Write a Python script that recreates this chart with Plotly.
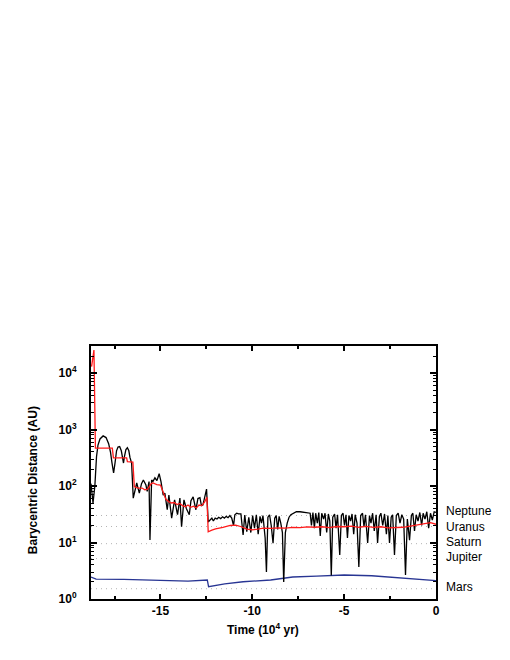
import numpy as np
import plotly.graph_objects as go

# ---------------- data ----------------
black_t = [-18.78, -18.67, -18.57, -18.48, -18.40, -18.29, -18.12, -17.96, -17.82, -17.72, -17.64, -17.55,
           -17.47, -17.39, -17.31, -17.22, -17.13, -17.07, -17.01,
           -16.96, -16.88, -16.80, -16.72, -16.66, -16.57, -16.48,
           -16.29, -16.22, -16.15, -16.03, -15.93, -15.79, -15.72, -15.62, -15.57, -15.48, -15.41, -15.30,
           -15.19, -15.07, -14.97, -14.85, -14.76, -14.63, -14.54, -14.39, -14.23, -14.07, -13.94, -13.85,
           -13.72, -13.59, -13.43, -13.34, -13.22, -13.07, -12.96, -12.85, -12.77, -12.69, -12.58, -12.49, -12.40,
           -12.31, -12.20, -12.12, -12.02, -11.92, -11.83, -11.72, -11.62, -11.52, -11.42, -11.32, -11.22,
           -11.12, -11.02, -10.95, -10.85, -10.75, -10.62, -10.50, -10.41, -10.30, -10.19,
           -10.08, -9.98, -9.88, -9.78, -9.68, -9.58, -9.50, -9.42, -9.30, -9.23, -9.15, -9.06, -8.97, -8.87,
           -8.78, -8.70, -8.62, -8.54, -8.45, -8.36, -8.29, -8.20, -8.10, -8.00, -7.90, -7.78, -7.60, -7.40,
           -7.20, -7.00, -6.85, -6.78, -6.70, -6.62, -6.55, -6.46, -6.38, -6.30, -6.22, -6.12, -6.04, -5.95,
           -5.86, -5.78, -5.70, -5.62, -5.52, -5.44, -5.36, -5.24, -5.15, -5.06, -4.98, -4.90, -4.82, -4.74,
           -4.65, -4.57, -4.48, -4.40, -4.30, -4.20, -4.10, -4.00, -3.92, -3.84, -3.72, -3.62, -3.54, -3.45,
           -3.36, -3.26, -3.18, -3.08, -3.00, -2.90, -2.80, -2.70, -2.62, -2.53, -2.44, -2.36, -2.26, -2.16,
           -2.06, -1.96, -1.86, -1.76, -1.66, -1.56, -1.44, -1.34, -1.26, -1.17, -1.08, -0.98, -0.88, -0.78,
           -0.70, -0.60, -0.50, -0.40, -0.30, -0.20, -0.10, 0.0]
black_au = [110, 50, 100, 330, 530, 680, 770, 720, 560, 400, 260, 170,
            260, 420, 490, 500, 420, 320, 255,
            330, 440, 475, 420, 320, 255, 61,
            113, 92, 75, 110, 128, 104, 80, 120, 11.1, 128, 120, 140,
            125, 165, 120, 69, 75, 38, 69, 27, 57, 31, 61, 19,
            57, 40, 31, 55, 64, 38, 60, 62, 45, 46, 70, 88, 23,
            25, 27, 24, 27, 26, 28, 26.5, 28.5, 27, 29, 27.5, 30,
            27, 20, 31, 33, 32, 32, 13.6, 30.7, 15.5, 28,
            15, 30, 18, 31, 14, 29, 22, 30, 12, 3.0, 28, 31, 20, 9.7,
            27, 30, 17, 29, 22, 15, 2.0, 15, 22, 28, 31, 33, 35, 35,
            34, 34, 33, 20, 34, 18, 33, 22, 34, 13, 33, 26, 33, 15,
            32, 24, 2.6, 28, 32, 18, 31, 6, 30, 33, 20, 31, 12, 30,
            24, 32, 14, 31, 22, 3.7, 30, 33, 19, 31, 9.8, 30, 22, 33,
            16, 31, 9.8, 29, 33, 20, 32, 14, 30, 9.8, 28, 31, 6, 30,
            33, 22, 31, 26, 2.66, 26, 11, 30, 33, 16, 31, 24, 34, 20,
            33, 26, 35, 18, 33, 25, 35, 34]

red_t = [-18.75, -18.62, -18.54, -17.62, -17.56, -16.84, -16.80, -16.50, -16.42, -16.2, -16.0, -15.85,
         -15.7, -15.5, -15.4, -15.2, -15.0, -14.85, -14.7, -14.55, -14.4, -14.25, -14.1, -13.95, -13.8,
         -13.65, -13.5, -13.35, -13.2, -13.05, -12.9, -12.75, -12.6, -12.47, -12.40, -12.2, -12.0, -11.6,
         -11.2, -10.9, -10.6, -10.3, -10.0, -9.7, -9.4, -9.0, -8.6, -8.2, -7.8, -7.4, -7.0, -6.6, -6.2,
         -5.8, -5.4, -5.0, -4.6, -4.2, -3.8, -3.4, -3.0, -2.6, -2.2, -1.8, -1.4, -1.0, -0.6, -0.3, 0.0]
red_au = [13000, 25500, 470, 470, 315, 315, 270, 265, 97, 92, 92, 86,
          88, 110, 113, 106, 104, 75, 58, 53, 50, 51, 47, 49, 45,
          43, 46, 42, 44, 41, 46, 45, 52, 63, 15.5, 16.5, 17.5, 18.5,
          20, 20.3, 19, 17.2, 16.8, 17.3, 18, 17.8, 18.2, 18.0, 18.5, 18.4, 18.9, 18.6, 19.0,
          18.4, 19.2, 19.0, 19.5, 18.6, 19.3, 18.5, 19.0, 18.2, 18.4, 18.6, 19.5, 20.5, 21.5, 22.5, 21]

blue_t = [-18.78, -18.5, -17.0, -15.0, -13.5, -12.45, -12.38, -11.5, -10.5, -9.0, -7.8, -6.5, -5.0,
          -3.5, -2.0, -1.0, 0.0]
blue_au = [2.45, 2.25, 2.22, 2.17, 2.08, 2.17, 1.65, 1.85, 2.02, 2.17, 2.45, 2.55, 2.66,
           2.58, 2.35, 2.25, 2.12]

planets = ["Neptune", "Uranus", "Saturn", "Jupiter", "Mars"]
planet_au = [30.07, 19.19, 9.54, 5.20, 1.52]
label_shift = [4, 0, 2, 2, 2]

x_tickvals = [-15, -10, -5, 0]
x_ticktext = ["-15", "-10", "-5", "0"]
y_tickvals = [1, 10, 100, 1000, 10000]
y_ticktext = ["10<sup>0</sup>", "10<sup>1</sup>", "10<sup>2</sup>", "10<sup>3</sup>", "10<sup>4</sup>"]

X_MIN, X_MAX = -18.78, 0.0
Y_LOG_MAX = 4.478

FONT = "Liberation Sans, Arial, sans-serif"

fig = go.Figure()

for d in planet_au:
    fig.add_trace(go.Scatter(x=[X_MIN, X_MAX], y=[d, d], mode="lines",
                             line=dict(color="#b4b4b4", width=1, dash="1px,4px"),
                             hoverinfo="skip", showlegend=False))

fig.add_trace(go.Scatter(x=blue_t, y=blue_au, mode="lines",
                         line=dict(color="#283593", width=1.3), showlegend=False))
fig.add_trace(go.Scatter(x=black_t, y=black_au, mode="lines",
                         line=dict(color="black", width=1.3), showlegend=False))
fig.add_trace(go.Scatter(x=red_t, y=red_au, mode="lines",
                         line=dict(color="#ff1a1a", width=1.3), showlegend=False))

for name, d, s in zip(planets, planet_au, label_shift):
    fig.add_annotation(x=1, xref="paper", y=np.log10(d), yref="y", text=name,
                       showarrow=False, xanchor="left", yanchor="middle", xshift=8, yshift=s,
                       font=dict(family=FONT, size=12, color="black"))

fig.add_annotation(x=-0.168, xref="paper", y=0.47, yref="paper", text="Barycentric Distance (AU)",
                   textangle=-90, showarrow=False, xanchor="center", yanchor="middle",
                   font=dict(family=FONT, size=12, color="black", weight="bold"))
fig.add_annotation(x=0.498, xref="paper", y=-0.1186, yref="paper", text="Time (10<sup>4</sup> yr)",
                   showarrow=False, xanchor="center", yanchor="middle",
                   font=dict(family=FONT, size=12, color="black", weight="bold"))

fig.update_xaxes(range=[X_MIN, X_MAX], tickvals=x_tickvals, ticktext=x_ticktext,
                 ticks="inside", ticklen=5, tickwidth=1.5, tickcolor="black",
                 minor=dict(ticks="inside", ticklen=3, tickwidth=1.5, dtick=2.5, tick0=0, tickcolor="black"),
                 showline=True, linecolor="black", linewidth=2, mirror="ticks",
                 showgrid=False, zeroline=False,
                 tickfont=dict(family=FONT, size=12, color="black", weight="bold"))
fig.update_yaxes(type="log", range=[0, Y_LOG_MAX], tickvals=y_tickvals, ticktext=y_ticktext,
                 ticks="inside", ticklen=6, tickwidth=1.5, tickcolor="black",
                 minor=dict(ticks="inside", ticklen=3, tickwidth=1, dtick="D1", tickcolor="black"),
                 showline=True, linecolor="black", linewidth=2, mirror="ticks",
                 showgrid=False, zeroline=False, ticklabelstandoff=10,
                 tickfont=dict(family=FONT, size=12, color="black", weight="bold"))

# page body adds an 8px offset; margins compensate so the plot area lands where the reference has it
fig.update_layout(width=510, height=660, margin=dict(l=83, r=82, t=338, b=69),
                  plot_bgcolor="white", paper_bgcolor="white", showlegend=False)

fig.write_html("out.html")
